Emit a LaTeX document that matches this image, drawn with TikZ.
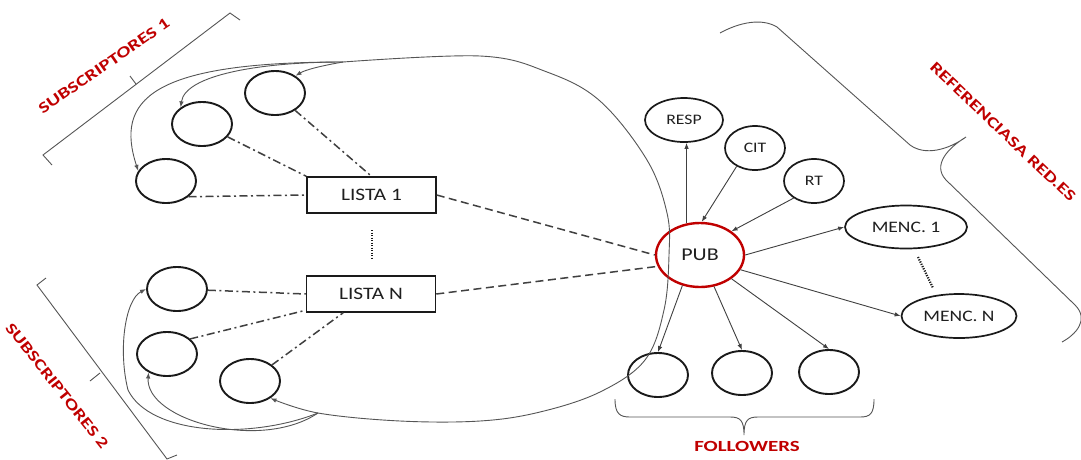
\documentclass[tikz,border=0pt]{standalone}
\usepackage{fontspec}
\setmainfont{Carlito}[FakeStretch=1.22]
\newfontfamily\lblfont{Carlito}[FakeStretch=1.35]
\usetikzlibrary{shapes.geometric,arrows.meta}
\definecolor{ink}{HTML}{1A1A1A}
\definecolor{txt}{HTML}{1F1F1F}
\definecolor{wire}{HTML}{404040}
\definecolor{bracecol}{HTML}{555555}
\definecolor{accent}{HTML}{C00000}

\tikzset{
  user/.style={ellipse, draw=ink, line width=1.9pt, minimum width=60pt, minimum height=44pt, inner sep=0pt},
  tag/.style={ellipse, draw=ink, line width=1.7pt, inner sep=0pt, text=txt, font=\fontsize{14.5}{14.5}\selectfont},
  listbox/.style={rectangle, draw=ink, line width=1.5pt, minimum width=129pt, minimum height=36pt, text=txt, font=\fontsize{17.5}{17.5}\selectfont},
  pubnode/.style={ellipse, draw=accent, line width=2.4pt, minimum width=88pt, minimum height=64pt, inner sep=0pt, text=txt, font=\fontsize{18}{18}\selectfont},
  feed/.style={wire, line width=0.9pt, -{Latex[length=6pt,width=4.5pt]}},
  subline/.style={wire, line width=1.5pt, dash pattern=on 8pt off 3.5pt on 2pt off 3.5pt},
  publine/.style={wire, line width=1.5pt, dash pattern=on 8pt off 4.5pt},
  ellip/.style={ink, line width=2.2pt, dash pattern=on 1.2pt off 1.3pt},
  loopfeed/.style={bracecol, line width=0.9pt, -{Latex[length=6pt,width=4.5pt]}},
  brk/.style={bracecol, line width=0.9pt},
  grp/.style={text=accent, font=\lblfont\bfseries\fontsize{15.5}{15.5}\selectfont},
}

\begin{document}
\begin{tikzpicture}[x=1pt,y=-1pt]
\useasboundingbox[fill=white] (0,0) rectangle (1081,459);
\clip (0,0) rectangle (1081,459);

% subscribers of the first list
\node[user] (c1a) at (275,93) {};
\node[user] (c1b) at (202,124) {};
\node[user] (c1c) at (166,181) {};
% subscribers of the last list
\node[user] (c2a) at (177,289) {};
\node[user] (c2b) at (167,354) {};
\node[user] (c2c) at (250,381) {};

% lists
\node[listbox] (l1) at (371.5,195) {LISTA 1};
\node[listbox] (ln) at (371,294) {LISTA N};
\coordinate (lda) at (372,230);
\coordinate (ldb) at (372,258);
\draw[ellip] (lda) -- (ldb);

% publication and its references
\node[pubnode] (pub) at (700,255) {PUB};
\node[tag, minimum width=78pt, minimum height=44pt] (resp) at (684,120) {RESP};
\node[tag, minimum width=60pt, minimum height=44pt] (cit) at (755,148) {CIT};
\node[tag, minimum width=60pt, minimum height=44pt] (rt) at (814,181) {RT};
\node[tag, minimum width=122pt, minimum height=43pt, font=\fontsize{16}{16}\selectfont] (m1) at (906,227) {MENC. 1};
\node[tag, minimum width=115pt, minimum height=44pt, font=\fontsize{16}{16}\selectfont] (mn) at (959,316) {MENC. N};
\coordinate (mda) at (918,257);
\coordinate (mdb) at (933,288);
\draw[ellip] (mda) -- (mdb);

% followers
\node[user] (f1) at (658,375) {};
\node[user] (f2) at (742,373) {};
\node[user] (f3) at (829,372) {};

% subscriptions
\draw[subline] (c1a) -- (l1.north);
\draw[subline] (c1b) -- (l1.north west);
\draw[subline] (c1c.-35) -- (l1.west);
\draw[subline] (c2a) -- (ln.west);
\draw[subline] (c2b.33) -- (ln.194);
\draw[subline] (c2c) -- (ln.214);

% lists feeding the publication
\draw[publine] (l1.east) -- (pub.west);
\draw[publine] (ln.east) -- (pub.195);

% publication arrows
\draw[feed] (pub.113) -- (pub.113 |- resp.south);
\draw[feed] (cit.225) -- (pub.87);
\draw[feed] (rt.220) -- (pub.37);
\draw[feed] (pub.east) -- (m1.west);
\draw[feed] (pub.-20) -- (mn.west);
\draw[feed] (pub.-120) -- (f1.north);
\draw[feed] (pub.-66) -- (f2.north);
\draw[feed] (pub.-37) -- (f3.north);

% the large loop back to the subscribers
\coordinate (j1) at (343,62);
\coordinate (j2) at (318,413);
\draw[loopfeed] plot[smooth, tension=0.6] coordinates {(j1) (480,56) (547,72) (600,101) (647,160) (667,213) (669,255) (664,310) (645,360) (600,392) (540,412) (480,421) (400,421) (j2) (c2c.-40)};
\draw[loopfeed] (j1) .. controls (320,66) and (305,70) .. (c1a.40);
\draw[loopfeed] (j1) .. controls (260,62) and (185,75) .. (c1b.142);
\draw[loopfeed] (j1) .. controls (150,62) and (115,100) .. (c1c.160);
\draw[loopfeed] (j2) .. controls (260,452) and (145,420) .. (c2b.225);
\draw[loopfeed] (j2) .. controls (250,440) and (150,435) .. (128,390) .. controls (118,350) and (125,300) .. (c2a.west);

% group brackets
\draw[brk] (52,165) -- (43,155) -- (230,13) -- (240,20);
\draw[brk] (136,84) -- (130,76);
\draw[brk] (46,278) -- (37,285) -- (167,459) -- (177,455);
\draw[brk] (100,373) -- (90,381);
\draw[brk] (615,399) .. controls (615,414) and (620,417) .. (630,417) -- (730,417)
  .. controls (740,417) and (744,420) .. (744,435)
  .. controls (744,420) and (748,417) .. (758,417) -- (860,417)
  .. controls (870,417) and (874,414) .. (874,399);
\draw[brk] (720,33) .. controls (740,22) and (762,18) .. (777,27) -- (910,145)
  .. controls (925,156) and (948,150) .. (966,137)
  .. controls (948,148) and (932,165) .. (946,180) -- (1075,305)
  .. controls (1090,320) and (1075,335) .. (1062,342);

% group labels
\node[grp, rotate=34.6] (lsub1) at (104,66) {SUBSCRIPTORES 1};
\node[grp, rotate=-51.5] (lsub2) at (57,386) {SUBSCRIPTORES 2};
\node[grp, rotate=-43.5] (lref) at (1003,132) {REFERENCIASA RED.ES};
\node[grp] (lfol) at (747,446) {FOLLOWERS};
\end{tikzpicture}
\end{document}
